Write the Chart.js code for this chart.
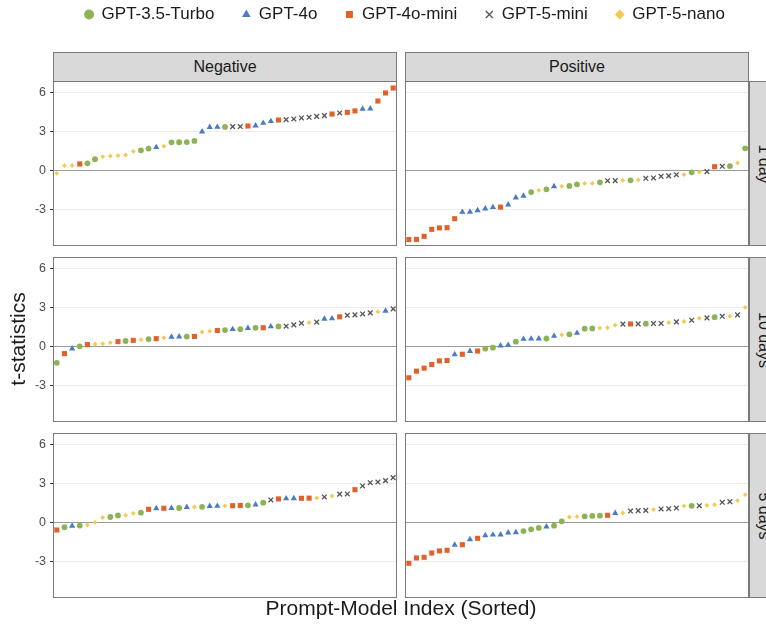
<!DOCTYPE html>
<html>
<head>
<meta charset="utf-8">
<script src="https://cdn.jsdelivr.net/npm/chart.js@4.4.1/dist/chart.umd.min.js"></script>
<style>
  html, body { margin: 0; padding: 0; background: #ffffff; }
  body { width: 766px; height: 626px; position: relative; overflow: hidden;
         font-family: 'Liberation Sans', Arial, sans-serif; color: #1a1a1a; }
  canvas { position: absolute; }
  .strip { position: absolute; background: #d9d9d9; border: 1px solid #7a7a7a; box-sizing: border-box;
           display: flex; align-items: center; justify-content: center; font-size: 16px; color: #1a1a1a;
           white-space: nowrap; }
  .strip.side span { display: inline-block; transform: rotate(90deg); }
  .axis-title { position: absolute; font-size: 21px; white-space: nowrap; color: #1a1a1a; }
</style>
</head>
<body>
<script>
// ---- categories ----
const MODELS = ['GPT-3.5-Turbo', 'GPT-4o', 'GPT-4o-mini', 'GPT-5-mini', 'GPT-5-nano'];
const SENTIMENTS = ['Negative', 'Positive'];
const HORIZONS = ['1 day', '10 days', '5 days'];
const Y_TICKS = [-3, 0, 3, 6];

// ---- sorted t-statistics per panel, with the model (index into MODELS) of each point ----
const negDay1Model = [4,4,4,2,0,0,4,4,4,4,4,0,0,1,4,0,0,0,0,1,1,1,0,3,3,2,1,1,1,2,3,3,3,3,3,3,2,3,2,2,1,1,2,2,2];
const negDay1T = [-0.18,0.41,0.42,0.54,0.59,0.90,1.10,1.15,1.18,1.23,1.51,1.59,1.72,1.82,1.90,2.20,2.21,2.22,2.31,3.03,
                  3.37,3.38,3.39,3.41,3.42,3.46,3.49,3.69,3.82,3.92,3.95,4.00,4.08,4.13,4.20,4.26,4.38,4.46,4.51,4.62,
                  4.77,4.79,5.38,6.00,6.38];

const posDay1Model = [2,2,2,2,2,2,2,1,1,1,1,1,2,1,1,1,0,4,0,1,4,0,0,4,4,0,3,3,4,0,4,3,3,3,3,3,4,0,4,3,2,3,0,4,0];
const posDay1T = [-5.27,-5.26,-5.03,-4.49,-4.38,-4.36,-3.67,-3.16,-3.15,-3.03,-2.90,-2.79,-2.78,-2.59,-2.05,-1.92,-1.62,
                  -1.49,-1.41,-1.19,-1.18,-1.15,-1.03,-0.96,-0.95,-0.87,-0.75,-0.74,-0.73,-0.72,-0.69,-0.56,-0.54,
                  -0.41,-0.38,-0.29,-0.28,-0.10,-0.08,-0.05,0.33,0.36,0.38,0.62,1.74];

const negDay10Model = [0,2,1,0,2,4,4,4,2,0,2,4,0,2,4,1,1,0,2,4,4,2,0,1,0,1,0,2,1,0,3,3,3,4,3,1,1,2,3,3,3,3,4,1,3];
const negDay10T = [-1.22,-0.51,-0.13,0.05,0.18,0.23,0.25,0.33,0.41,0.46,0.51,0.56,0.61,0.64,0.71,0.78,0.79,0.80,0.81,
                   1.15,1.22,1.27,1.30,1.36,1.37,1.45,1.47,1.48,1.57,1.58,1.60,1.70,1.83,1.88,1.91,2.16,2.19,2.32,
                   2.44,2.47,2.54,2.62,2.70,2.77,2.93];

const posDay10Model = [2,2,2,2,2,2,1,2,1,2,0,0,1,1,0,1,1,1,0,1,4,0,1,0,0,4,4,4,3,2,3,0,3,3,4,3,4,3,4,3,0,3,4,3,4];
const posDay10T = [-2.37,-1.86,-1.63,-1.35,-1.07,-1.04,-0.57,-0.56,-0.32,-0.31,-0.13,-0.05,0.10,0.15,0.41,0.61,0.63,
                   0.64,0.65,0.84,0.94,0.97,1.07,1.41,1.42,1.45,1.48,1.68,1.76,1.77,1.78,1.79,1.80,1.81,1.88,1.93,
                   1.96,2.06,2.21,2.24,2.29,2.36,2.37,2.47,3.05];

const negDay5Model = [2,0,1,0,4,4,4,0,0,4,4,0,2,1,2,1,0,1,4,0,1,1,4,2,2,0,1,0,3,2,1,1,2,2,4,3,4,3,3,2,3,3,3,3,3];
const negDay5T = [-0.54,-0.33,-0.23,-0.20,-0.15,0.05,0.41,0.46,0.58,0.59,0.74,0.79,1.05,1.12,1.13,1.14,1.15,1.22,1.23,
                  1.24,1.29,1.30,1.31,1.33,1.35,1.36,1.41,1.56,1.77,1.85,1.88,1.89,1.90,1.91,1.92,2.00,2.08,2.22,
                  2.23,2.56,2.85,3.10,3.15,3.26,3.49];

const posDay5Model = [2,2,2,2,2,2,1,2,1,2,1,1,1,1,1,0,0,0,1,0,0,4,4,0,0,0,2,1,4,3,3,3,4,3,3,3,4,0,3,4,4,3,3,4,4];
const posDay5T = [-3.10,-2.69,-2.64,-2.31,-2.15,-2.10,-1.69,-1.67,-1.26,-1.18,-0.95,-0.91,-0.90,-0.74,-0.72,-0.62,
                  -0.49,-0.38,-0.28,-0.21,0.13,0.46,0.49,0.51,0.54,0.56,0.59,0.76,0.77,0.92,0.95,0.97,1.03,1.08,1.10,
                  1.15,1.31,1.32,1.33,1.36,1.41,1.59,1.64,1.72,2.18];

// rows = horizons, columns = sentiments
const panelGrid = [
  [{ models: negDay1Model,  t: negDay1T  }, { models: posDay1Model,  t: posDay1T  }],
  [{ models: negDay10Model, t: negDay10T }, { models: posDay10Model, t: posDay10T }],
  [{ models: negDay5Model,  t: negDay5T  }, { models: posDay5Model,  t: posDay5T  }]
];

// ---- appearance ----
const FONT = "'Liberation Sans', Arial, sans-serif";
const MODEL_COLORS = ['#8cb454', '#4a7bc4', '#e1612b', '#555555', '#f3c94f'];
const MODEL_SHAPES = ['circle', 'triangle', 'rect', 'crossRot', 'rectRot'];
const MODEL_RADII  = [2.9, 3.6, 3.6, 3.3, 2.4];

const COL_X = [53, 405];
const ROW_Y = [81, 257, 433];
const PANEL_W = 344, PANEL_H = 165;
const AXIS_W = 53;
const Y_MIN = -5.77, Y_MAX = 6.92;

Chart.defaults.font.family = FONT;

// frame drawn around each panel's plotting region
const panelFrame = {
  id: 'panelFrame',
  afterDraw(chart) {
    const { ctx, chartArea: a } = chart;
    ctx.save();
    ctx.strokeStyle = '#7a7a7a';
    ctx.lineWidth = 1;
    ctx.strokeRect(a.left + 0.5, a.top + 0.5, a.right - a.left - 1, a.bottom - a.top - 1);
    ctx.restore();
  }
};

function styleFor(m) {
  return {
    label: MODELS[m],
    pointStyle: MODEL_SHAPES[m],
    pointRadius: MODEL_RADII[m],
    backgroundColor: MODEL_COLORS[m],
    borderColor: MODEL_COLORS[m],
    borderWidth: MODEL_SHAPES[m] === 'crossRot' ? 1.3 : 0
  };
}

function buildDatasets(models, tvals) {
  return MODELS.map((_, m) => Object.assign(styleFor(m), {
    data: tvals.map((t, i) => ({ x: i + 1, y: t, model: models[i] })).filter(p => p.model === m)
  }));
}

function addCanvas(left, top, width, height) {
  const c = document.createElement('canvas');
  c.width = width; c.height = height;
  c.style.left = left + 'px'; c.style.top = top + 'px';
  c.style.width = width + 'px'; c.style.height = height + 'px';
  document.body.appendChild(c);
  return c;
}

function addDiv(cls, html, left, top, width, height) {
  const d = document.createElement('div');
  d.className = cls;
  d.innerHTML = html;
  Object.assign(d.style, { left: left + 'px', top: top + 'px', width: width + 'px', height: height + 'px' });
  document.body.appendChild(d);
  return d;
}

function drawPanel(row, col) {
  const withAxis = col === 0;
  const left = withAxis ? COL_X[col] - AXIS_W : COL_X[col];
  const width = withAxis ? PANEL_W + AXIS_W : PANEL_W;
  const panel = panelGrid[row][col];
  const canvas = addCanvas(left, ROW_Y[row], width, PANEL_H);
  new Chart(canvas, {
    type: 'scatter',
    data: { datasets: buildDatasets(panel.models, panel.t) },
    options: {
      responsive: false,
      animation: false,
      events: [],
      layout: { padding: 0, autoPadding: false },
      plugins: { legend: { display: false }, tooltip: { enabled: false } },
      scales: {
        x: { type: 'linear', min: 0.5, max: MODELS.length * 9 + 0.5, display: false },
        y: {
          type: 'linear', min: Y_MIN, max: Y_MAX,
          afterBuildTicks: s => { s.ticks = Y_TICKS.map(v => ({ value: v })); },
          afterFit: s => { s.width = withAxis ? AXIS_W : 0; s.paddingTop = 0; s.paddingBottom = 0; },
          border: { display: false },
          grid: {
            color: c => (c.tick && c.tick.value === 0) ? '#9a9a9a' : '#ececec',
            lineWidth: 1,
            drawTicks: withAxis,
            tickLength: 3,
            tickColor: '#333333'
          },
          ticks: {
            display: withAxis,
            padding: 4,
            color: '#4d4d4d',
            font: { size: 12.5, family: FONT }
          }
        }
      }
    },
    plugins: [panelFrame]
  });
}

// panels
for (let r = 0; r < HORIZONS.length; r++) {
  for (let c = 0; c < SENTIMENTS.length; c++) drawPanel(r, c);
}

// facet strips
SENTIMENTS.forEach((s, c) => addDiv('strip', s, COL_X[c], 52, PANEL_W, 30));
HORIZONS.forEach((h, r) => addDiv('strip side', '<span>' + h + '</span>', COL_X[1] + PANEL_W, ROW_Y[r], 30, PANEL_H));

// axis titles
const yTitle = addDiv('axis-title', 't-statistics', 0, 0, 120, 26);
Object.assign(yTitle.style, { left: (18 - 60) + 'px', top: (339 - 13) + 'px', textAlign: 'center',
  lineHeight: '26px', transform: 'rotate(-90deg)' });
const xTitle = addDiv('axis-title', 'Prompt-Model Index (Sorted)', 201, 595, 400, 26);
Object.assign(xTitle.style, { textAlign: 'center', lineHeight: '26px' });

// legend (drawn by Chart.js from the model series)
const legendCanvas = addCanvas(44, -22, 722, 100);
new Chart(legendCanvas, {
  type: 'scatter',
  data: { datasets: MODELS.map((_, m) => Object.assign(styleFor(m), { data: [] })) },
  options: {
    responsive: false,
    animation: false,
    events: [],
    layout: { padding: 0, autoPadding: false },
    scales: { x: { display: false }, y: { display: false } },
    plugins: {
      tooltip: { enabled: false },
      legend: {
        display: true,
        position: 'top',
        labels: {
          usePointStyle: true,
          boxWidth: 8,
          boxHeight: 7,
          padding: 28,
          color: '#1a1a1a',
          font: { size: 17, family: FONT }
        }
      }
    }
  }
});
</script>
</body>
</html>
